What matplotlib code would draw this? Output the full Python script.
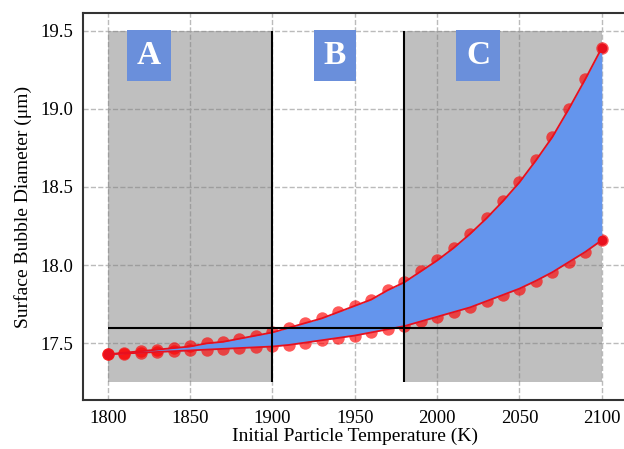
"""
Surface bubble diameter vs. initial particle temperature (regions A/B/C)
"""

import numpy as np
import matplotlib.pyplot as plt

plt.rcParams['font.family'] = ['Liberation Serif', 'DejaVu Serif']

# Initial particle temperature (K)
temps = [1800, 1810, 1820, 1830, 1840, 1850, 1860, 1870, 1880, 1890,
         1900, 1910, 1920, 1930, 1940, 1950, 1960, 1970, 1980, 1990,
         2000, 2010, 2020, 2030, 2040, 2050, 2060, 2070, 2080, 2090, 2100]

# upper bound of bubble diameter (um)
d_upper = [17.43, 17.44, 17.45, 17.46, 17.47, 17.48, 17.50, 17.51, 17.53, 17.55,
           17.57, 17.60, 17.63, 17.66, 17.70, 17.74, 17.78, 17.84, 17.89, 17.96,
           18.03, 18.11, 18.20, 18.30, 18.41, 18.53, 18.67, 18.82, 19.00, 19.19, 19.39]

# lower bound of bubble diameter (um)
d_lower = [17.43, 17.435, 17.44, 17.445, 17.45, 17.455, 17.46, 17.465, 17.47, 17.475,
           17.48, 17.49, 17.505, 17.52, 17.535, 17.55, 17.57, 17.59, 17.61, 17.64,
           17.67, 17.70, 17.73, 17.77, 17.81, 17.85, 17.90, 17.955, 18.02, 18.085, 18.16]

# shaded regions (T range) and y span of the shading
regions_gray = [(1800, 1900), (1980, 2100)]
region_y = (17.25, 19.5)
boundaries = [1900, 1980]
threshold_d = 17.6

# region labels
labels = ['A', 'B', 'C']
label_x = [1825, 1938, 2025]
label_y = 19.34

xticks = [1800, 1850, 1900, 1950, 2000, 2050, 2100]
yticks = [17.5, 18.0, 18.5, 19.0, 19.5]

fig = plt.figure(figsize=(6.24, 4.49), dpi=100)
ax = fig.add_axes([0.133, 0.109, 0.871, 0.862])

T = np.array(temps)
up = np.array(d_upper)
lo = np.array(d_lower)

for x0, x1 in regions_gray:
    ax.fill_between([x0, x1], region_y[0], region_y[1], color='gray', alpha=0.5,
                    lw=0, zorder=1)

ax.scatter(T, up, s=80, color='red', alpha=0.65, lw=0, zorder=2)
ax.scatter(T, lo, s=80, color='red', alpha=0.65, lw=0, zorder=2)

ax.fill_between(T, lo, up, color='cornflowerblue', lw=0, zorder=3)
ax.plot(T, up, color='#e8101e', lw=1.3, zorder=4, marker='o', ms=6, markevery=[0, -1])
ax.plot(T, lo, color='#e8101e', lw=1.3, zorder=4, marker='o', ms=6, markevery=[0, -1])

for b in boundaries:
    ax.vlines(b, region_y[0], region_y[1], color='black', lw=1.5, zorder=5)
ax.hlines(threshold_d, temps[0], temps[-1], color='black', lw=1.5, zorder=5)

for lab, lx in zip(labels, label_x):
    ax.text(lx, label_y, lab, fontsize=24, fontweight='bold', color='white',
            ha='center', va='center', zorder=6,
            bbox=dict(boxstyle='square,pad=0.3', fc='#6a8fdb', ec='none'))

ax.set_xlim(1785, 2115)
ax.set_ylim(17.1375, 19.6125)
ax.set_xticks(xticks)
ax.set_yticks(yticks)
ax.grid(True, ls='--', color='#bbbbbb', lw=1.0)
ax.set_axisbelow(True)
ax.tick_params(length=0, labelsize=13.5, pad=7)
for s in ax.spines.values():
    s.set_linewidth(1.5)
    s.set_color('#333333')

ax.set_xlabel('Initial Particle Temperature (K)', fontsize=14, labelpad=1)
ax.set_ylabel('Surface Bubble Diameter (\u03bcm)', fontsize=14, labelpad=6)

plt.savefig('out.png', dpi=100)
